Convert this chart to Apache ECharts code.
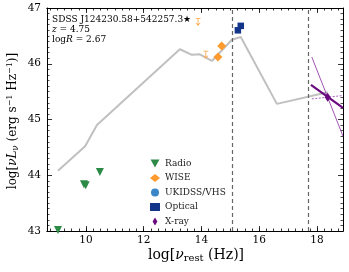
<!DOCTYPE html>
<html><head><meta charset="utf-8">
<script src="https://cdn.jsdelivr.net/npm/echarts@6/dist/echarts.min.js"></script>
<style>html,body{margin:0;padding:0;background:#fff}#c{width:349px;height:272px}</style>
</head><body><div id="c"></div>
<script>
// ---- data ----
var sedLine = [[9.03,44.08],[9.97,44.52],[10.38,44.90],[13.25,46.26],[13.67,46.16],[13.94,46.17],[14.36,46.05],[15.05,46.43],[15.36,46.48],[16.61,45.28],[18.37,45.49]];
var radio = [[9.03,43.02],[9.93,43.84],[9.99,43.82],[10.48,44.06]];
var wise = [[14.57,46.12],[14.70,46.32]];
var wiseUL = [[14.15,46.16],[13.88,46.75]];
var ukidss = [];
var optical = [[15.26,46.60],[15.36,46.68]];
var xray = [[18.37,45.40]];
var xrayBest = [[17.79,45.62],[18.90,45.21]];
var xraySteep = [[17.82,46.12],[18.90,44.70]];
var xrayFlat = [[17.82,45.37],[18.90,45.43]];
var vLines = [15.08, 17.70];
var xMajor = [10,12,14,16,18];
var xMinor = [];
for (var v = 8.75; v <= 18.9; v += 0.25) xMinor.push(Math.round(v*100)/100);
var legendNames = ['Radio','WISE','UKIDSS/VHS','Optical','X-ray'];

var SERIF = 'DejaVu Serif';
var XMIN = 8.65, XMAX = 18.9;
function xax(pos, custom, len, label) {
  return {type:'value', min:XMIN, max:XMAX, position:pos,
    axisLine:{show:true, onZero:false, lineStyle:{color:'#000', width:1}},
    axisTick:{show:true, inside:true, length:len, customValues:custom, lineStyle:{color:'#000', width:0.8}},
    axisLabel:{show:label, customValues:custom, margin:4, color:'#000', fontSize:10.5, fontFamily:SERIF},
    splitLine:{show:false}};
}
function yax(pos, label) {
  return {type:'value', min:43, max:47, interval:1, position:pos,
    axisLine:{show:true, onZero:false, lineStyle:{color:'#000', width:1}},
    axisTick:{show:true, inside:true, length:5, lineStyle:{color:'#000', width:0.8}},
    minorTick:{show:true, splitNumber:10, length:2.5, lineStyle:{color:'#000', width:0.7}},
    axisLabel:{show:label, margin:6, color:'#000', fontSize:10.5, fontFamily:SERIF},
    splitLine:{show:false}, minorSplitLine:{show:false}};
}
var arrowPath = 'path://M0,0 L10,0 L10,1.6 L5.8,1.6 L5.8,13 L8.6,10 L9.6,11 L5,17 L0.4,11 L1.4,10 L4.2,13 L4.2,1.6 L0,1.6 Z';
var downTri = 'path://M0,0 L10,0 L5,9 Z';
var thinDia = 'path://M3,0 L6,5 L3,10 L0,5 Z';

var chart = echarts.init(document.getElementById('c'), null, {renderer:'canvas'});
chart.setOption({
  animation:false,
  grid:{left:47, right:6, top:8, bottom:41},
  xAxis:[xax('bottom', xMajor, 5, true), xax('bottom', xMinor, 2.5, false), xax('top', xMajor, 5, false), xax('top', xMinor, 2.5, false)],
  yAxis:[yax('left', true), yax('right', false)],
  legend:{orient:'vertical', left:145, top:154, itemWidth:10, itemHeight:8, itemGap:5.5,
    data:[{name:'Radio', icon:downTri},{name:'WISE'},{name:'UKIDSS/VHS'},{name:'Optical'},{name:'X-ray', icon:thinDia}],
    textStyle:{fontFamily:SERIF, fontSize:9, color:'#222'}},
  series:[
    {type:'line', name:'sed', data:sedLine, showSymbol:false, symbol:'none', lineStyle:{color:'#c0c0c0', width:2}, z:1,
     markLine:{silent:true, symbol:'none', label:{show:false}, lineStyle:{color:'#666', type:[4,3], width:1.2},
       data: vLines.map(function(x){return {xAxis:x};})}},
    {type:'scatter', name:'Radio', data:radio, symbol:'triangle', symbolRotate:180, symbolSize:8, itemStyle:{color:'#2b8a45', opacity:1}, z:3},
    {type:'scatter', name:'WISE', data:wise, symbol:'diamond', symbolSize:[9,9], itemStyle:{color:'#ff9a2e', opacity:1}, z:3},
    {type:'scatter', name:'wiseUL', data:wiseUL, symbol:arrowPath, symbolSize:[5,8], itemStyle:{color:'#ffa646', opacity:1}, z:3},
    {type:'scatter', name:'UKIDSS/VHS', data:ukidss, symbol:'circle', symbolSize:7, itemStyle:{color:'#3a86c8', opacity:1}},
    {type:'scatter', name:'Optical', data:optical, symbol:'rect', symbolSize:6.5, itemStyle:{color:'#12358a', opacity:1}, z:3},
    {type:'line', name:'xb', data:xrayBest, symbol:'none', lineStyle:{color:'#6a0a7e', width:2.2}, z:4},
    {type:'line', name:'xs', data:xraySteep, symbol:'none', lineStyle:{color:'#8a2aa0', width:0.8}, z:4},
    {type:'line', name:'xf', data:xrayFlat, symbol:'none', lineStyle:{color:'#9a3ab0', width:0.8, type:[2,1.5]}, z:4},
    {type:'scatter', name:'X-ray', data:xray, symbol:'diamond', symbolSize:[6,9], itemStyle:{color:'#6a0a7e', opacity:1}, z:5}
  ],
  graphic:[
    {type:'text', left:52, top:15, style:{text:'SDSS J124230.58+542257.3★', font:'9px "DejaVu Serif"', fill:'#000'}},
    {type:'text', left:52, top:25, style:{text:'{i|z} = 4.75', font:'9px "DejaVu Serif"', fill:'#000',
       rich:{i:{fontStyle:'italic', fontFamily:SERIF, fontSize:9}}}},
    {type:'text', left:52, top:35.5, style:{text:'log{i|R} = 2.67', font:'9px "DejaVu Serif"', fill:'#000',
       rich:{i:{fontStyle:'italic', fontFamily:SERIF, fontSize:9}}}},
    {type:'text', x:196, y:255, style:{text:'{n|log[}{i|ν}{s|rest}{n| (Hz)]}', align:'center', verticalAlign:'middle',
       rich:{n:{fontFamily:SERIF, fontSize:14, fill:'#000'}, i:{fontFamily:SERIF, fontStyle:'italic', fontSize:14, fill:'#000'},
             s:{fontFamily:SERIF, fontSize:10, fill:'#000', padding:[7,0,0,0]}}}},
    {type:'text', x:13, y:121, rotation:Math.PI/2, style:{text:'{n|log[}{i|νL}{s|ν}{n| (erg s}{p|−1}{n| Hz}{p|−1}{n|)]}', align:'center', verticalAlign:'middle',
       rich:{n:{fontFamily:SERIF, fontSize:12, fill:'#000'}, i:{fontFamily:SERIF, fontStyle:'italic', fontSize:12, fill:'#000'},
             s:{fontFamily:SERIF, fontSize:8.5, fill:'#000', padding:[6,0,0,0]},
             p:{fontFamily:SERIF, fontSize:8, fill:'#000', padding:[0,0,6,0]}}}}
  ]
});
</script></body></html>
